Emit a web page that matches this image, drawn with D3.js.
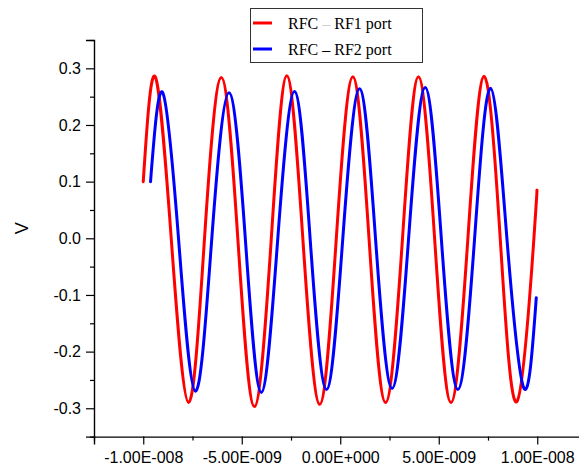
<!DOCTYPE html>
<html>
<head>
<meta charset="utf-8">
<script src="https://cdn.jsdelivr.net/npm/d3@7"></script>
<style>
  html, body { margin: 0; padding: 0; background: #fff; }
  svg { display: block; }
</style>
</head>
<body>
<svg id="chart" width="579" height="470"></svg>
<script>
// Time samples (ns) and voltages (V) for each port path
const rf1Time = [-10.0, -9.39, -8.58, -7.70, -6.89, -6.04, -5.20, -4.36, -3.50, -2.71, -1.90, -1.04, -0.20,
                 0.64, 1.46, 2.30, 3.16, 3.97, 4.79, 5.62, 6.48, 7.30, 8.12, 8.97, 9.83, 9.98];
const rf1Volt = [0.100, 0.285, 0, -0.290, 0, 0.284, 0, -0.297, 0, 0.287, 0, -0.293, 0,
                 0.285, 0, -0.290, 0, 0.285, 0, -0.290, 0, 0.286, 0, -0.288, 0, 0.084];

const rf2Time = [-9.63, -9.01, -8.21, -7.35, -6.52, -5.65, -4.82, -4.01, -3.17, -2.32, -1.53, -0.70, 0.13,
                 0.98, 1.79, 2.63, 3.47, 4.31, 5.13, 5.97, 6.82, 7.63, 8.46, 9.33, 9.95];
const rf2Volt = [0.100, 0.257, 0, -0.270, 0, 0.257, 0, -0.272, 0, 0.259, 0, -0.267, 0,
                 0.264, 0, -0.265, 0, 0.266, 0, -0.267, 0, 0.265, 0, -0.265, -0.105];

const seriesNames = ["RFC \u2013 RF1 port", "RFC \u2013 RF2 port"];
const seriesColors = ["#ff0000", "#0000ff"];

const xMajorTicks = [-1e-8, -5e-9, 0, 5e-9, 1e-8];
const xTickLabels = ["-1.00E-008", "-5.00E-009", "0.00E+000", "5.00E-009", "1.00E-008"];
const yMajorTicks = [-0.3, -0.2, -0.1, 0.0, 0.1, 0.2, 0.3];
const yTickLabels = ["-0.3", "-0.2", "-0.1", "0.0", "0.1", "0.2", "0.3"];
const yTitle = "V";

const svg = d3.select("#chart");
const plotLeft = 94, plotTop = 40, plotBottom = 436.6;

const x = d3.scaleLinear().domain([-1.25e-8, 1.25e-8]).range([plotLeft, plotLeft + 492.5]);
const y = d3.scaleLinear().domain([-0.35, 0.35]).range([plotBottom, plotTop]);

const axisFont = "'Liberation Sans', Arial, sans-serif";

// minor ticks
const xMinor = d3.range(-1.25e-8, 1.26e-8, 2.5e-9).filter(v => !xMajorTicks.some(m => Math.abs(m - v) < 1e-12));
const yMinor = d3.range(-0.35, 0.351, 0.1);

// X axis
const gx = svg.append("g").attr("transform", `translate(0,${plotBottom})`);
gx.call(d3.axisBottom(x).tickValues(xMajorTicks).tickSize(8).tickPadding(7)
  .tickFormat((d, i) => xTickLabels[i]));
gx.append("g").call(d3.axisBottom(x).tickValues(xMinor).tickSize(4).tickFormat(""))
  .select(".domain").remove();

// Y axis
const gy = svg.append("g").attr("transform", `translate(${plotLeft},0)`);
gy.call(d3.axisLeft(y).tickValues(yMajorTicks).tickSize(8).tickPadding(5)
  .tickFormat((d, i) => yTickLabels[i]));
gy.append("g").call(d3.axisLeft(y).tickValues(yMinor).tickSize(4).tickFormat(""))
  .select(".domain").remove();

svg.selectAll(".domain").attr("stroke", "#000").attr("stroke-width", 1.4);
svg.selectAll(".tick line").attr("stroke", "#000").attr("stroke-width", 1.2);
svg.selectAll(".tick text").attr("font-family", axisFont).attr("font-size", 16).attr("fill", "#000");

// Y title
svg.append("text")
  .attr("transform", `translate(28,${y(0) - 10}) rotate(-90)`)
  .attr("text-anchor", "middle")
  .attr("font-family", axisFont)
  .attr("font-size", 18)
  .text(yTitle);

// Curves
const line = d3.line().x(d => x(d[0] * 1e-9)).y(d => y(d[1])).curve(d3.curveNatural);
const series = [
  d3.zip(rf1Time, rf1Volt),
  d3.zip(rf2Time, rf2Volt)
];
series.forEach((pts, i) => {
  svg.append("path")
    .datum(pts)
    .attr("d", line)
    .attr("fill", "none")
    .attr("stroke", seriesColors[i])
    .attr("stroke-width", 3)
    .attr("stroke-linejoin", "round")
    .attr("stroke-linecap", "round");
});

// Legend
const lg = svg.append("g");
lg.append("rect").attr("x", 250.5).attr("y", 8.5).attr("width", 172).attr("height", 54)
  .attr("fill", "#fff").attr("stroke", "#333").attr("stroke-width", 1);
seriesNames.forEach((name, i) => {
  const cy = 23 + i * 26;
  lg.append("line").attr("x1", 253).attr("x2", 272).attr("y1", cy).attr("y2", cy)
    .attr("stroke", seriesColors[i]).attr("stroke-width", 3);
  const t = lg.append("text").attr("x", 288).attr("y", cy + 6)
    .attr("font-family", "'Liberation Serif', 'Times New Roman', serif")
    .attr("font-size", 16).attr("fill", "#000");
  const parts = name.split("\u2013");
  t.append("tspan").text(parts[0]);
  t.append("tspan").attr("fill", i === 0 ? "#d0d0d0" : "#000").text("\u2013");
  t.append("tspan").text(parts[1]);
});
</script>
</body>
</html>
